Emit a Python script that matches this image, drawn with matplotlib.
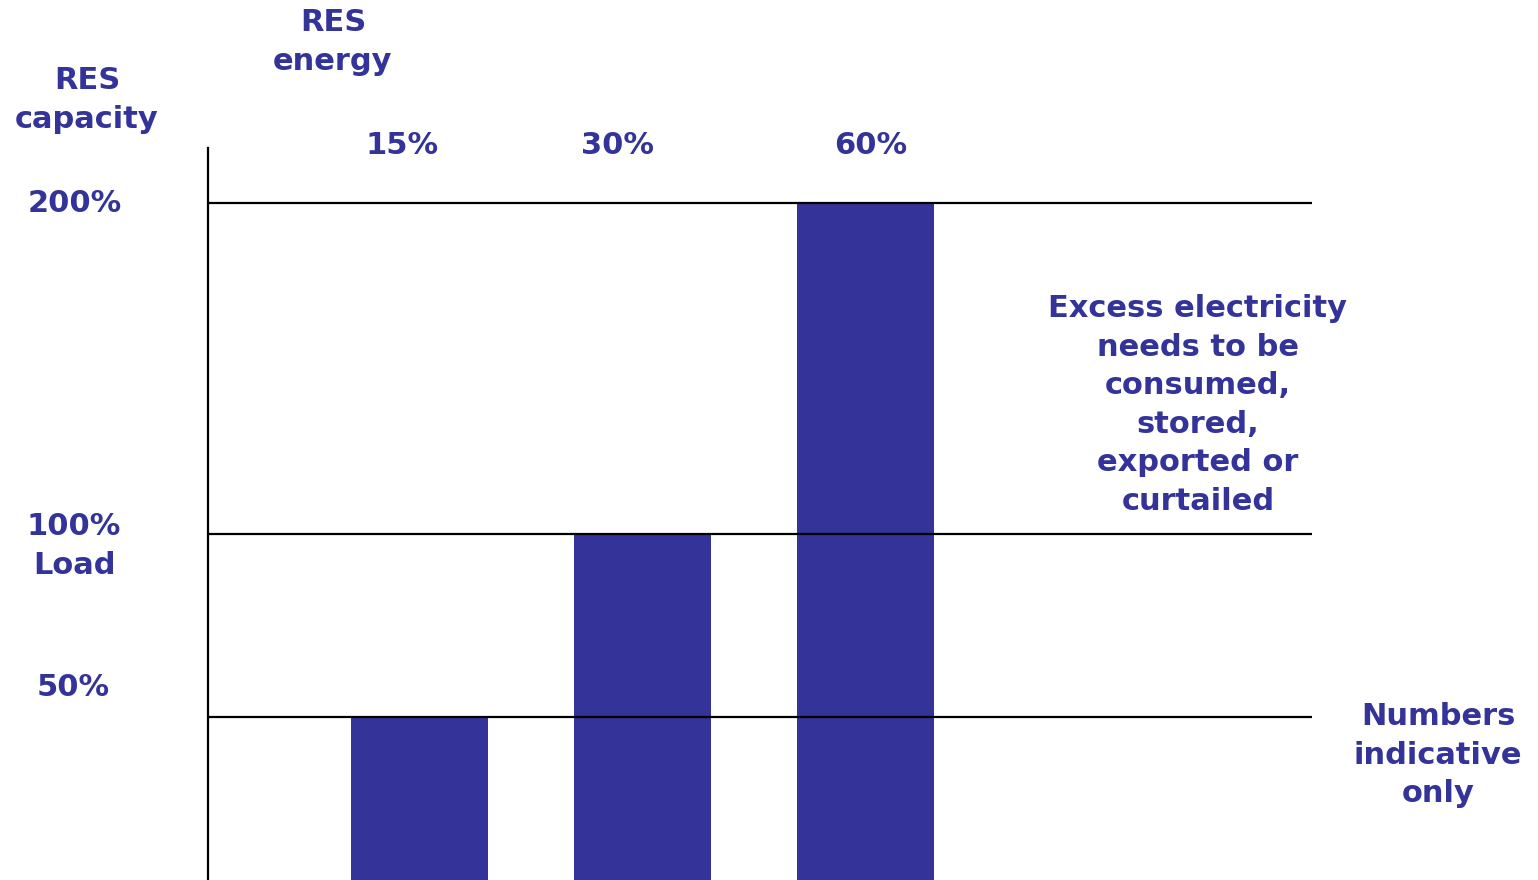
import numpy as np
import matplotlib
matplotlib.use("Agg")
import matplotlib.pyplot as plt

# Data
energy_labels = ['15%', '30%', '60%']
capacity = [50, 100, 200]
level_values = [50, 100, 200]

BLUE = '#333399'
plt.rcParams['font.family'] = ['DejaVu Sans']
plt.rcParams['font.weight'] = 'bold'

# the original chart is not drawn to a linear scale: piecewise mapping
scale_vals = [0, 50, 100, 200, 216.6]
scale_pix = [0, 163, 346, 677, 732]

def forward(v):
    return np.interp(v, scale_vals, scale_pix, left=-1e9, right=1e9)

def inverse(p):
    return np.interp(p, scale_pix, scale_vals)

fig = plt.figure(figsize=(15.38, 8.8), dpi=100)
ax = fig.add_axes([208 / 1538, 0, (1312 - 208) / 1538, 732 / 880])
ax.set_yscale('function', functions=(forward, inverse))

x = np.arange(len(capacity))
ax.bar(x, capacity, width=0.614, color=BLUE, zorder=2)
for v in level_values:
    ax.axhline(v, color='black', lw=1.6, zorder=3)

ax.set_xlim(-0.95, 4.0)
ax.set_ylim(0, 216.6)
for s in ['top', 'right', 'bottom']:
    ax.spines[s].set_visible(False)
ax.spines['left'].set_linewidth(1.6)
ax.set_xticks([])
ax.set_yticks([])

fs = 22
ls = 1.41

# category labels above the axes
label_offsets = [-0.08, -0.115, 0.02]
for xi, lab, off in zip(x, energy_labels, label_offsets):
    ax.text(xi + off, 1.0 + 3 / 732, lab, transform=ax.get_xaxis_transform(),
            ha='center', va='center', fontsize=fs, color=BLUE)

def ftext(px, py, s):
    fig.text(px / 1538, 1 - py / 880, s, ha='center', va='center',
             fontsize=fs, color=BLUE, linespacing=ls)

# y level labels
ftext(75, 204, '200%')
ftext(74, 546, '100%\nLoad')
ftext(73, 687, '50%')

ftext(87, 100, 'RES\ncapacity')
ftext(333, 42, 'RES\nenergy')
ftext(1198, 405, 'Excess electricity\nneeds to be\nconsumed,\nstored,\nexported or\ncurtailed')
ftext(1438, 755, 'Numbers\nindicative\nonly')

fig.savefig('out.png', dpi=100)
